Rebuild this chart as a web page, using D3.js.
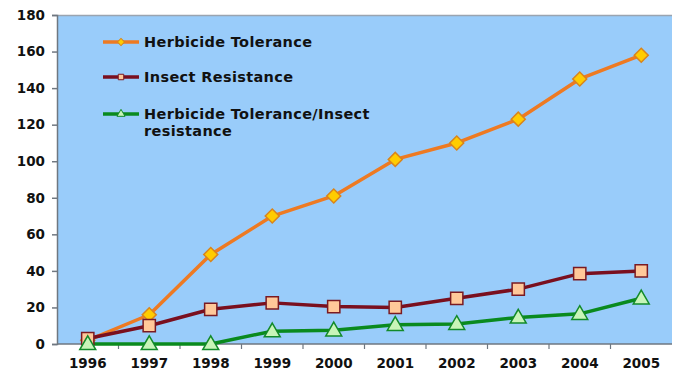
<!DOCTYPE html>
<html>
<head>
<meta charset="utf-8">
<script src="https://cdn.jsdelivr.net/npm/d3@7"></script>
<style>
  html, body { margin: 0; padding: 0; background: #ffffff; }
  svg text { font-family: "DejaVu Sans", Verdana, sans-serif; font-weight: bold; fill: #111; }
</style>
</head>
<body>
<svg id="chart" width="681" height="375"></svg>
<script>
// Years on the category axis
const years = ["1996","1997","1998","1999","2000","2001","2002","2003","2004","2005"];
// Series values (one per year)
const herbicideTolerance = [2, 16, 49, 70, 81, 101, 110, 123, 145, 158];
const insectResistance   = [3, 10, 19, 22.5, 20.5, 20, 25, 30, 38.5, 40];
const stacked            = [0, 0, 0, 7, 7.5, 10.5, 11, 14.5, 16.5, 25];
// Value axis ticks
const yTicks = [0, 20, 40, 60, 80, 100, 120, 140, 160, 180];

const series = [
  { name: ["Herbicide Tolerance"], values: herbicideTolerance, line: "#ee7a22", fill: "#ffcc00", stroke: "#d9841c", shape: d3.symbolSquare, rot: 45, size: 98, legendSize: 26 },
  { name: ["Insect Resistance"], values: insectResistance, line: "#7a0f1e", fill: "#ffc899", stroke: "#7a1a22", shape: d3.symbolSquare, rot: 0, size: 150, legendSize: 30 },
  { name: ["Herbicide Tolerance/Insect", "resistance"], values: stacked, line: "#0a8a1e", fill: "#c8f5b8", stroke: "#128a2a", shape: d3.symbolTriangle, rot: 0, size: 110, legendSize: 28 }
];

const svg = d3.select("#chart");
const plot = { left: 57, right: 672, top: 15, bottom: 344 };

const x = d3.scalePoint().domain(years).range([plot.left, plot.right]).padding(0.5);
const xBand = d3.scaleBand().domain(years).range([plot.left, plot.right]);
const y = d3.scaleLinear().domain([0, 180]).range([plot.bottom, plot.top]);

// Plot area background
svg.append("rect")
  .attr("x", plot.left).attr("y", plot.top)
  .attr("width", plot.right - plot.left).attr("height", plot.bottom - plot.top)
  .attr("fill", "#99ccfa");

// Top edge of plot area
svg.append("line")
  .attr("x1", plot.left).attr("x2", plot.right)
  .attr("y1", plot.top + 0.5).attr("y2", plot.top + 0.5)
  .attr("stroke", "#9aa4b0").attr("stroke-width", 1.5);

// Y axis
const yAxis = svg.append("g")
  .attr("transform", `translate(${plot.left},0)`)
  .call(d3.axisLeft(y).tickValues(yTicks).tickSize(5).tickPadding(7));
yAxis.selectAll("path, line").attr("stroke", "#6f7780").attr("stroke-width", 1.5);
yAxis.selectAll("text").style("font-size", "13.5px").attr("fill", "#111");

// X axis: ticks between categories
const xAxisG = svg.append("g").attr("transform", `translate(0,${plot.bottom})`);
xAxisG.append("line")
  .attr("x1", plot.left).attr("x2", plot.right)
  .attr("stroke", "#6f7780").attr("stroke-width", 1.5);
xAxisG.selectAll("line.tick")
  .data(years.slice(1))
  .join("line")
  .attr("class", "tick")
  .attr("x1", d => xBand(d)).attr("x2", d => xBand(d))
  .attr("y1", 0).attr("y2", 5)
  .attr("stroke", "#6f7780").attr("stroke-width", 1.2);
xAxisG.selectAll("text")
  .data(years)
  .join("text")
  .attr("x", d => x(d)).attr("y", 24)
  .attr("text-anchor", "middle")
  .style("font-size", "13.5px")
  .text(d => d);

const line = d3.line().x((d, i) => x(years[i])).y(d => y(d));

// Lines first, then markers on top
series.forEach(s => {
  svg.append("path")
    .datum(s.values)
    .attr("d", line)
    .attr("fill", "none")
    .attr("stroke", s.line)
    .attr("stroke-width", 3.5)
    .attr("stroke-linejoin", "round");
});
series.forEach(s => {
  const sym = d3.symbol().type(s.shape).size(s.size);
  svg.append("g").selectAll("path")
    .data(s.values)
    .join("path")
    .attr("d", sym)
    .attr("transform", (d, i) => {
      const dy = s.shape === d3.symbolTriangle ? 1 : 0;
      return `translate(${x(years[i])},${y(d) + dy}) rotate(${s.rot})`;
    })
    .attr("fill", s.fill)
    .attr("stroke", s.stroke)
    .attr("stroke-width", 1.5);
});

// Legend
const legendRows = [42, 77, 114];
series.forEach((s, i) => {
  const g = svg.append("g").attr("transform", `translate(103,${legendRows[i]})`);
  g.append("line").attr("x1", 0).attr("x2", 36).attr("y1", 0).attr("y2", 0)
    .attr("stroke", s.line).attr("stroke-width", 3.5);
  g.append("path").attr("d", d3.symbol().type(s.shape).size(s.legendSize))
    .attr("transform", `translate(18,0) rotate(${s.rot})`)
    .attr("fill", s.fill).attr("stroke", s.stroke).attr("stroke-width", 1);
  s.name.forEach((t, j) => {
    g.append("text").attr("x", 41).attr("y", 5 + j * 17)
      .style("font-size", "14.5px").style("letter-spacing", "0.35px")
      .attr("fill", "#1a1a2a").text(t);
  });
});
</script>
</body>
</html>
